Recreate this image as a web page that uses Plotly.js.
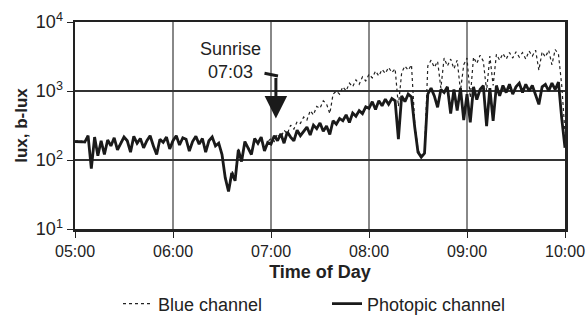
<!DOCTYPE html>
<html><head><meta charset="utf-8">
<script src="https://cdn.plot.ly/plotly-3.0.1.min.js"></script>
<style>html,body{margin:0;padding:0;background:#fff}#c{width:586px;height:326px}</style>
</head><body><div id="c"></div>
<script>
// sampling: every 2 minutes from 05:00 to 10:00
const startHour = 5, stepMin = 2;
const photopic = [
185,186,184,182,225,75,215,115,190,120,
195,160,210,140,175,215,190,130,220,175,
205,150,190,225,160,120,200,180,215,145,
190,225,165,210,200,135,185,220,170,205,
130,190,215,160,175,120,55,35,65,50,
140,95,185,150,120,205,175,215,135,180,
170,225,190,240,175,255,215,190,270,225,
260,300,230,320,285,345,260,310,235,370,
330,400,370,450,350,480,430,520,470,590,
560,700,540,720,610,760,640,780,720,200,
850,700,900,820,300,130,110,125,900,1100,
850,580,1050,950,1150,470,1050,520,1100,380,
900,350,1150,750,1050,1200,310,1100,370,1200,
850,1200,950,1250,900,1150,1300,950,1250,1000,
1200,900,640,1150,1250,1000,1300,1050,1350,400,
150];
const blue = [
188,190,186,184,220,80,210,120,185,125,
190,165,205,145,180,210,185,135,215,170,
200,155,185,220,165,125,195,185,210,150,
195,220,170,205,195,140,190,215,175,200,
135,195,210,165,170,125,60,38,70,55,
145,100,180,155,125,200,180,210,140,185,
205,185,240,210,270,240,320,280,360,340,
420,380,520,450,600,560,720,650,470,900,
1000,900,1150,1000,1300,1150,1450,1250,1600,1400,
1750,1550,1950,1650,2050,1800,2200,1850,2100,600,
1850,2300,2000,2400,350,140,115,130,2300,2800,
2200,2700,1100,3000,2300,2900,2100,2800,1000,2400,
3000,800,3100,2500,3300,2700,1000,3200,1200,3400,
2800,3500,2900,3600,3000,3700,3100,3600,2900,3800,
3200,3900,2000,3700,3100,3900,2400,4000,3400,1200,
250];
const xTicks = ['05:00','06:00','07:00','08:00','09:00','10:00'];
const yTickVals = [10,100,1000,10000];
const yTickText = ['10<sup>1</sup>','10<sup>2</sup>','10<sup>3</sup>','10<sup>4</sup>'];
const seriesNames = ['Blue channel','Photopic channel'];

function stamp(totalMin){
  const h = startHour + Math.floor(totalMin/60), m = totalMin%60;
  return '2020-01-01 ' + String(h).padStart(2,'0') + ':' + String(m).padStart(2,'0');
}
const times = photopic.map((_, i) => stamp(i*stepMin));
const D = t => '2020-01-01 ' + t;

const font = {family:'Liberation Sans, Arial, sans-serif', color:'#222'};
const traces = [
  {x: times, y: blue, name: seriesNames[0], type:'scatter', mode:'lines', legend:'legend',
   line:{color:'#222', width:1.2, dash:'dot'}},
  {x: times, y: photopic, name: seriesNames[1], type:'scatter', mode:'lines', legend:'legend2',
   line:{color:'#1a1a1a', width:2.8}}
];
const legBase = {orientation:'h', xref:'container', yref:'container', yanchor:'middle', xanchor:'left',
  font:Object.assign({size:18}, font), itemwidth:30, bgcolor:'rgba(0,0,0,0)'};
const layout = {
  width:586, height:326,
  margin:{l:75, r:21, t:22, b:97, autoexpand:false},
  paper_bgcolor:'#fff', plot_bgcolor:'#fff',
  font: Object.assign({size:15}, font),
  showlegend:true,
  legend: Object.assign({}, legBase, {x:118/586, y:(326-304)/326}),
  legend2: Object.assign({}, legBase, {x:327/586, y:(326-304)/326}),
  xaxis:{type:'date', range:[D('05:00'), D('10:00')],
         tickvals: xTicks.map(D), ticktext: xTicks,
         ticks:'outside', ticklen:6, tickcolor:'#222', tickwidth:1,
         showgrid:true, gridcolor:'#888', gridwidth:1.5,
         showline:true, mirror:true, linecolor:'#222', linewidth:2.5,
         tickfont:Object.assign({size:16}, font),
         title:{text:'<b>Time of Day</b>', font:Object.assign({size:18}, font), standoff:7},
         zeroline:false},
  yaxis:{type:'log', range:[1,4], tickvals:yTickVals, ticktext:yTickText,
         ticks:'outside', ticklen:6, tickcolor:'#222', tickwidth:1,
         showgrid:true, gridcolor:'#333', gridwidth:1.2,
         showline:true, mirror:true, linecolor:'#222', linewidth:2.5,
         tickfont:Object.assign({size:18}, font),
         title:{text:'<b>lux, b-lux</b>', font:Object.assign({size:17}, font), standoff:4},
         zeroline:false},
  annotations:[
    {xref:'paper', yref:'paper', x:(230-75)/490, y:(229-61)/207, xanchor:'center', yanchor:'middle',
     text:'Sunrise<br>07:03', showarrow:false, font:Object.assign({size:18}, font), align:'center'},
    {x:D('07:03'), y:2.6, xref:'x', yref:'y', text:'', showarrow:true,
     ax:0, ay:-42, arrowhead:2, arrowsize:1.5, arrowwidth:3, arrowcolor:'#1a1a1a', standoff:0},
    {xref:'paper', yref:'paper', x:(278-75)/490, y:(229-76)/207, text:'', showarrow:true,
     ax:-15, ay:-3, arrowhead:0, arrowwidth:3, arrowcolor:'#1a1a1a', standoff:0}
  ]
};
Plotly.newPlot('c', traces, layout, {displayModeBar:false, staticPlot:true});
</script></body></html>
